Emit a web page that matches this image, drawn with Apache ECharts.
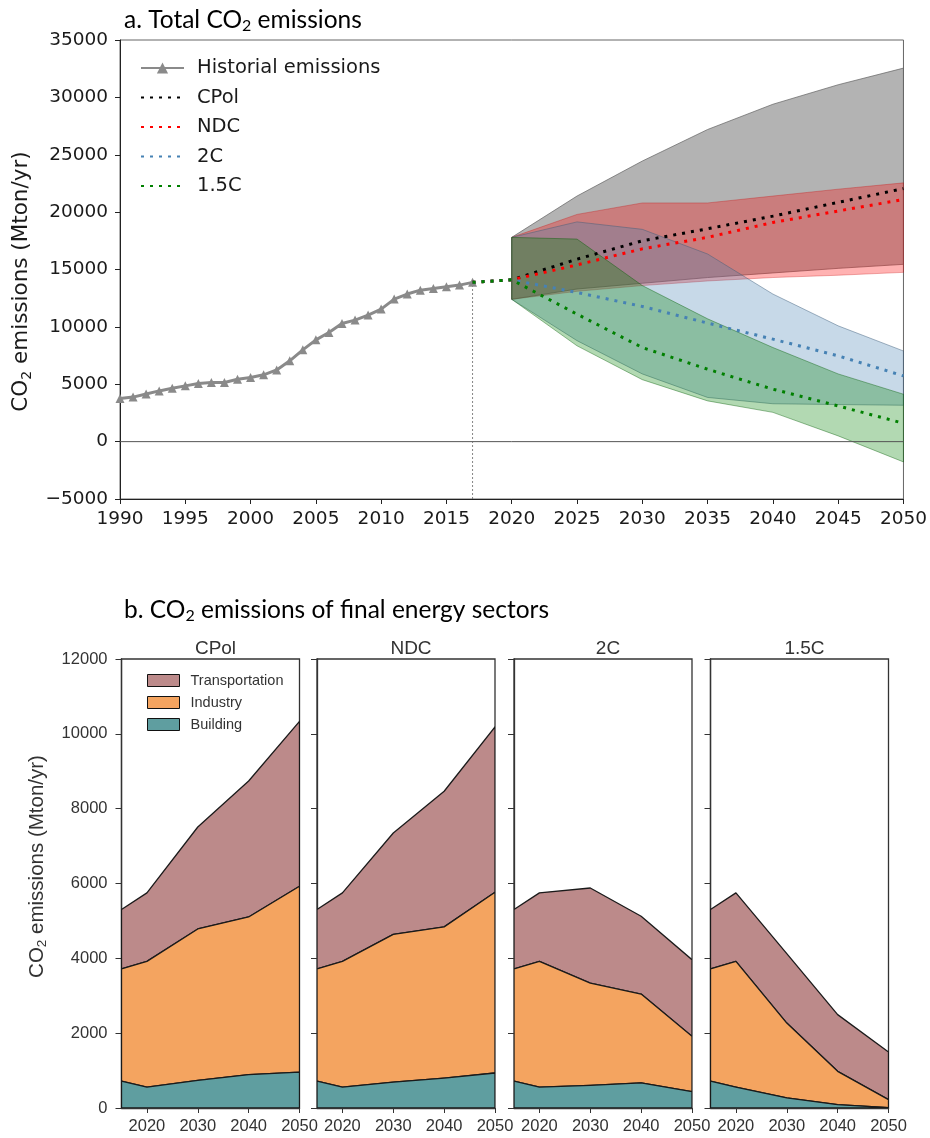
<!DOCTYPE html>
<html>
<head>
<meta charset="utf-8">
<script src="https://cdn.jsdelivr.net/npm/echarts@6/dist/echarts.min.js"></script>
<style>
  html, body { margin: 0; padding: 0; background: #fff; }
  #chart { width: 930px; height: 1138px; }
</style>
</head>
<body>
<div id="chart"></div>
<script>
// ---------- a. Total CO2 emissions ----------
const histStartYear = 1990;
const histEmissions = [3750, 3880, 4150, 4420, 4650, 4860, 5060, 5150, 5150, 5440,
  5585, 5820, 6250, 7040, 8000, 8870, 9510, 10300, 10590, 11030,
  11550, 12420, 12860, 13200, 13350, 13500, 13640, 13880];

const scenarioYears = [2017, 2020, 2025, 2030, 2035, 2040, 2045, 2050];
const cpolPath = [13880, 14100, 15900, 17500, 18550, 19650, 20850, 22050];
const ndcPath  = [13880, 14100, 15400, 16800, 17800, 19100, 20100, 21100];
const c2Path   = [13880, 14100, 13000, 11780, 10330, 8930, 7480, 5730];
const c15Path  = [13880, 14100, 11110, 8200, 6310, 4570, 3110, 1600];

// model ranges (min / max) per scenario
const rangeYears = [2020, 2025, 2030, 2035, 2040, 2045, 2050];
const cpolLow  = [12400, 13300, 13800, 14300, 14700, 15100, 15450];
const cpolHigh = [17800, 21400, 24450, 27200, 29400, 31100, 32550];
const ndcLow   = [12400, 13100, 13600, 14000, 14300, 14500, 14750];
const ndcHigh  = [17800, 19800, 20800, 20800, 21400, 22000, 22550];
const c2Low    = [12400, 8800, 5900, 3850, 3300, 3230, 3170];
const c2High   = [17800, 19150, 18500, 16350, 12860, 10090, 7900];
const c15Low   = [12400, 8350, 5400, 3550, 2550, 500, -1770];
const c15High  = [17800, 17650, 13600, 10700, 8200, 5900, 4130];

const topYTicks = { min: -5000, max: 35000, step: 5000 };
const topXTicks = { min: 1990, max: 2050, step: 5 };

// ---------- b. CO2 emissions of final energy sectors ----------
const sectorYears = [2015, 2020, 2030, 2040, 2050];
const panelNames = ['CPol', 'NDC', '2C', '1.5C'];
const buildingCPol = [720, 560, 740, 890, 960];
const industryCPol = [2995, 3360, 4045, 4215, 4965];
const transportCPol = [1590, 1830, 2725, 3635, 4410];
const buildingNDC = [720, 560, 690, 800, 935];
const industryNDC = [2995, 3360, 3950, 4040, 4830];
const transportNDC = [1590, 1830, 2710, 3625, 4420];
const building2C = [720, 560, 605, 670, 440];
const industry2C = [2995, 3360, 2735, 2375, 1475];
const transport2C = [1590, 1830, 2540, 2080, 2050];
const building15C = [720, 560, 270, 90, 10];
const industry15C = [2995, 3360, 2000, 890, 213];
const transport15C = [1590, 1830, 1855, 1515, 1275];
const sectorXLabels = [2020, 2030, 2040, 2050];

const sectorData = [
  [buildingCPol, industryCPol, transportCPol],
  [buildingNDC, industryNDC, transportNDC],
  [building2C, industry2C, transport2C],
  [building15C, industry15C, transport15C]
];
const sectorNames = ['Building', 'Industry', 'Transportation'];
const sectorColors = ['#5f9ea0', '#f4a460', '#bc8a8a'];

// ---------- helpers ----------
const pairs = (xs, ys) => xs.map((x, i) => [x, ys[i]]);
const minus = v => (v < 0 ? '\u2212' + Math.abs(v) : String(v));
const plain = v => String(v);

// filled polygon between two curves, mapped through the axes of the grid
function fillBetween(name, xs, low, high, fill, stroke, lineWidth, axisIndex, z) {
  return {
    type: 'custom', name: name, xAxisIndex: axisIndex, yAxisIndex: axisIndex,
    silent: true, z: z, clip: true,
    itemStyle: { color: fill },
    data: xs.map((x, i) => [x, low[i], high[i]]),
    encode: { x: 0, y: [1, 2] },
    renderItem: (params, api) => {
      if (params.dataIndex !== 0) return null;
      const upper = xs.map((x, i) => api.coord([x, high[i]]));
      const lower = xs.map((x, i) => api.coord([x, low[i]])).reverse();
      return {
        type: 'polygon',
        shape: { points: upper.concat(lower) },
        style: { fill: fill, stroke: stroke, lineWidth: lineWidth, lineJoin: 'round' }
      };
    }
  };
}

const topFont = 'DejaVu Sans';
const botFont = 'Liberation Sans';

const histYears = histEmissions.map((_, i) => histStartYear + i);

const series = [];
series.push(fillBetween('cpol_range', rangeYears, cpolLow, cpolHigh, 'rgba(128,128,128,0.6)', 'rgba(100,100,100,0.7)', 1, 0, 1));
series.push(fillBetween('ndc_range', rangeYears, ndcLow, ndcHigh, 'rgba(255,0,0,0.3)', 'rgba(200,0,0,0.3)', 1, 0, 1));
series.push(fillBetween('c2_range', rangeYears, c2Low, c2High, 'rgba(70,130,180,0.3)', 'rgba(60,90,120,0.45)', 1, 0, 1));
series.push(fillBetween('c15_range', rangeYears, c15Low, c15High, 'rgba(0,128,0,0.3)', 'rgba(0,90,0,0.4)', 1, 0, 1));

// zero line
series.push({
  type: 'line', name: 'zero', silent: true, symbol: 'none', z: 2,
  data: [[topXTicks.min, 0], [topXTicks.max, 0]],
  lineStyle: { color: '#555', width: 1 }
});

// last historical year marker
const lastYear = histYears[histYears.length - 1];
series.push({
  type: 'line', name: 'last_hist', silent: true, symbol: 'none', z: 2,
  data: [[lastYear, topYTicks.min], [lastYear, histEmissions[histEmissions.length - 1]]],
  lineStyle: { color: '#666', width: 0.8, type: [2, 2] }
});

series.push({
  type: 'line', name: 'Historial emissions', z: 5,
  data: pairs(histYears, histEmissions),
  symbol: 'triangle', symbolSize: 9, showSymbol: true,
  itemStyle: { color: '#8a8a8a' },
  lineStyle: { color: '#8a8a8a', width: 3 }
});

const dotted = (name, ys, color) => ({
  type: 'line', name: name, z: 6, data: pairs(scenarioYears, ys), symbol: 'none',
  itemStyle: { color: color },
  lineStyle: { color: color, width: 3, type: [3, 6] }
});
series.push(dotted('CPol', cpolPath, '#000000'));
series.push(dotted('NDC', ndcPath, '#ff0000'));
series.push(dotted('2C', c2Path, '#4682b4'));
series.push(dotted('1.5C', c15Path, '#008000'));

// stacked sector areas, one panel per scenario
sectorData.forEach((panel, p) => {
  let base = sectorYears.map(() => 0);
  const layers = [];
  panel.forEach((vals, s) => {
    const top = base.map((b, i) => b + vals[i]);
    layers.push(fillBetween(sectorNames[s], sectorYears, base, top, sectorColors[s], '#1a1a1a', 1.3, p + 1, 5 - s));
    base = top;
  });
  series.push(...layers);
});

// ---------- layout ----------
const panelLefts = [121.5, 317, 514, 710.5];
const panelWidth = 178;
const panelTop = 659;
const panelHeight = 449;

const grids = [{ left: 120, top: 40, width: 785, height: 459, show: true, borderColor: '#666', borderWidth: 1 }];
panelLefts.forEach(l => grids.push({ left: l, top: panelTop, width: panelWidth, height: panelHeight, show: true, borderColor: '#333', borderWidth: 1.3 }));

const xAxes = [{
  type: 'value', gridIndex: 0, min: topXTicks.min, max: topXTicks.max, interval: topXTicks.step,
  axisLine: { show: true, onZero: false, lineStyle: { color: '#222', width: 1 } },
  axisTick: { show: true, inside: false, length: 5, lineStyle: { color: '#222' } },
  axisLabel: { fontFamily: topFont, fontSize: 18.5, color: '#1a1a1a', margin: 11, formatter: plain },
  splitLine: { show: false }
}];
const yAxes = [{
  type: 'value', gridIndex: 0, min: topYTicks.min, max: topYTicks.max, interval: topYTicks.step,
  axisLine: { show: true, onZero: false, lineStyle: { color: '#222', width: 1 } },
  axisTick: { show: true, inside: false, length: 5, lineStyle: { color: '#222' } },
  axisLabel: { fontFamily: topFont, fontSize: 18.5, color: '#1a1a1a', margin: 12, formatter: minus },
  splitLine: { show: false },
  name: '{a|CO}{s|2}{a| emissions (Mton/yr)}',
  nameLocation: 'middle', nameGap: 85,
  nameTextStyle: {
    padding: [0, 24, 0, 0],
    rich: {
      a: { fontFamily: topFont, fontSize: 21.5, color: '#1a1a1a', lineHeight: 26 },
      s: { fontFamily: topFont, fontSize: 14, color: '#1a1a1a', lineHeight: 10, verticalAlign: 'bottom' }
    }
  }
}];

panelLefts.forEach((l, p) => {
  xAxes.push({
    type: 'value', gridIndex: p + 1, min: sectorYears[0], max: sectorYears[sectorYears.length - 1],
    axisLine: { show: true, onZero: false, lineStyle: { color: '#333', width: 1.3 } },
    axisTick: { show: true, inside: false, length: 5, customValues: sectorXLabels, lineStyle: { color: '#333' } },
    axisLabel: { fontFamily: botFont, fontSize: 16.5, color: '#333', margin: 10, customValues: sectorXLabels, hideOverlap: false, formatter: plain },
    splitLine: { show: false }
  });
  yAxes.push({
    type: 'value', gridIndex: p + 1, min: 0, max: 12000, interval: 2000,
    axisLine: { show: true, onZero: false, lineStyle: { color: '#333', width: 1.3 } },
    axisTick: { show: true, inside: false, length: 6, lineStyle: { color: '#333' } },
    axisLabel: { show: p === 0, fontFamily: botFont, fontSize: 16.5, color: '#333', margin: 14, formatter: plain },
    splitLine: { show: false },
    name: p === 0 ? '{a|CO}{s|2}{a| emissions (Mton/yr)}' : '',
    nameLocation: 'middle', nameGap: 72,
    nameTextStyle: {
      padding: [0, 0, 0, 34],
      rich: {
        a: { fontFamily: botFont, fontSize: 20.5, color: '#333', lineHeight: 24 },
        s: { fontFamily: botFont, fontSize: 13.5, color: '#333', lineHeight: 8, verticalAlign: 'bottom' }
      }
    }
  });
});

const titleRich = {
  t: { fontFamily: 'Lato', fontSize: 24.5, fontWeight: 'normal', color: '#000', lineHeight: 27 },
  s: { fontFamily: 'Lato', fontSize: 16, fontWeight: 'normal', color: '#000', lineHeight: 10, verticalAlign: 'bottom' }
};
const titles = [
  { text: '{t|a. Total CO}{s|2}{t| emissions}', left: 119, top: 2, textStyle: { fontWeight: 'normal', rich: titleRich } },
  { text: '{t|b. CO}{s|2}{t| emissions of final energy sectors}', left: 119, top: 592, textStyle: { fontWeight: 'normal', rich: titleRich } }
];
panelNames.forEach((n, p) => {
  titles.push({
    text: n, left: panelLefts[p] + panelWidth / 2, top: 634, textAlign: 'center',
    textStyle: { fontFamily: botFont, fontSize: 19, fontWeight: 'normal', color: '#333' }
  });
});

const hiddenMarker = { opacity: 0 };
const option = {
  animation: false,
  backgroundColor: '#fff',
  title: titles,
  legend: [
    {
      data: [
        { name: 'Historial emissions' },
        { name: 'CPol', itemStyle: hiddenMarker },
        { name: 'NDC', itemStyle: hiddenMarker },
        { name: '2C', itemStyle: hiddenMarker },
        { name: '1.5C', itemStyle: hiddenMarker }
      ],
      orient: 'vertical', left: 135, top: 53, itemWidth: 43, itemHeight: 14, itemGap: 9.5,
      selectedMode: false,
      textStyle: { fontFamily: topFont, fontSize: 19.5, color: '#1a1a1a', padding: [0, 0, 0, 8] }
    },
    {
      data: ['Transportation', 'Industry', 'Building'],
      orient: 'vertical', left: 142, top: 668, itemWidth: 32, itemHeight: 12, itemGap: 7,
      icon: 'rect', selectedMode: false,
      itemStyle: { borderColor: '#111', borderWidth: 1 },
      textStyle: { fontFamily: botFont, fontSize: 14.5, color: '#333', padding: [0, 0, 0, 6] }
    }
  ],
  grid: grids,
  xAxis: xAxes,
  yAxis: yAxes,
  series: series
};

const chart = echarts.init(document.getElementById('chart'), null, { renderer: 'canvas' });
chart.setOption(option);
</script>
</body>
</html>
